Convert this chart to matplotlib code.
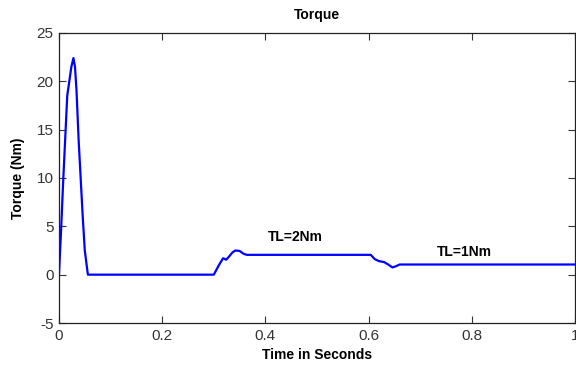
import matplotlib
matplotlib.use("Agg")
import matplotlib.pyplot as plt

time_s = [0.0, 0.004, 0.008, 0.012, 0.016, 0.020, 0.024, 0.028, 0.031, 0.034,
          0.038, 0.042, 0.046, 0.050, 0.056, 0.10, 0.20, 0.300, 0.310, 0.318,
          0.324, 0.330, 0.336, 0.342, 0.350, 0.358, 0.364, 0.45, 0.55, 0.604,
          0.612, 0.620, 0.630, 0.638, 0.646, 0.652, 0.660, 0.75, 0.85, 1.0]
torque_nm = [0.0, 4.5, 9.5, 14.0, 18.5, 20.0, 21.5, 22.4, 21.5, 19.0,
             14.0, 10.0, 6.0, 2.5, 0.0, 0.0, 0.0, 0.0, 1.0, 1.7,
             1.55, 1.9, 2.3, 2.5, 2.45, 2.15, 2.05, 2.05, 2.05, 2.05,
             1.6, 1.4, 1.3, 1.05, 0.75, 0.85, 1.05, 1.05, 1.05, 1.05]

x_ticks = [0, 0.2, 0.4, 0.6, 0.8, 1]
x_tick_labels = ["0", "0.2", "0.4", "0.6", "0.8", "1"]
y_ticks = [-5, 0, 5, 10, 15, 20, 25]
annotations = [("TL=2Nm", 0.458, 3.9), ("TL=1Nm", 0.786, 2.3)]

plt.rcParams['font.family'] = ['Liberation Sans', 'DejaVu Sans']
plt.rcParams['axes.unicode_minus'] = False
fig = plt.figure(figsize=(5.76, 3.70), dpi=100)
ax = fig.add_axes([0.1024, 0.127, 0.896, 0.784])
ax.plot(time_s, torque_nm, color=(0, 0, 1), lw=1.6)
ax.set_xlim(0, 1)
ax.set_ylim(-5, 25)
ax.set_xticks(x_ticks)
ax.set_xticklabels(x_tick_labels)
ax.set_yticks(y_ticks)
ax.tick_params(direction='in', top=True, right=True, labelsize=11,
               length=5, width=0.8, colors='#333333', pad=4)
for s in ax.spines.values():
    s.set_linewidth(0.9)
    s.set_color('#222222')
ax.set_title("Torque", fontsize=10, fontweight='bold', pad=10)
ax.set_xlabel("Time in Seconds", fontsize=10, fontweight='bold', labelpad=4)
ax.set_ylabel("Torque (Nm)", fontsize=10, fontweight='bold', labelpad=8)
for txt, x, y in annotations:
    ax.text(x, y, txt, fontsize=10, fontweight='bold', ha='center', va='center')
fig.savefig("out.png", dpi=100)
